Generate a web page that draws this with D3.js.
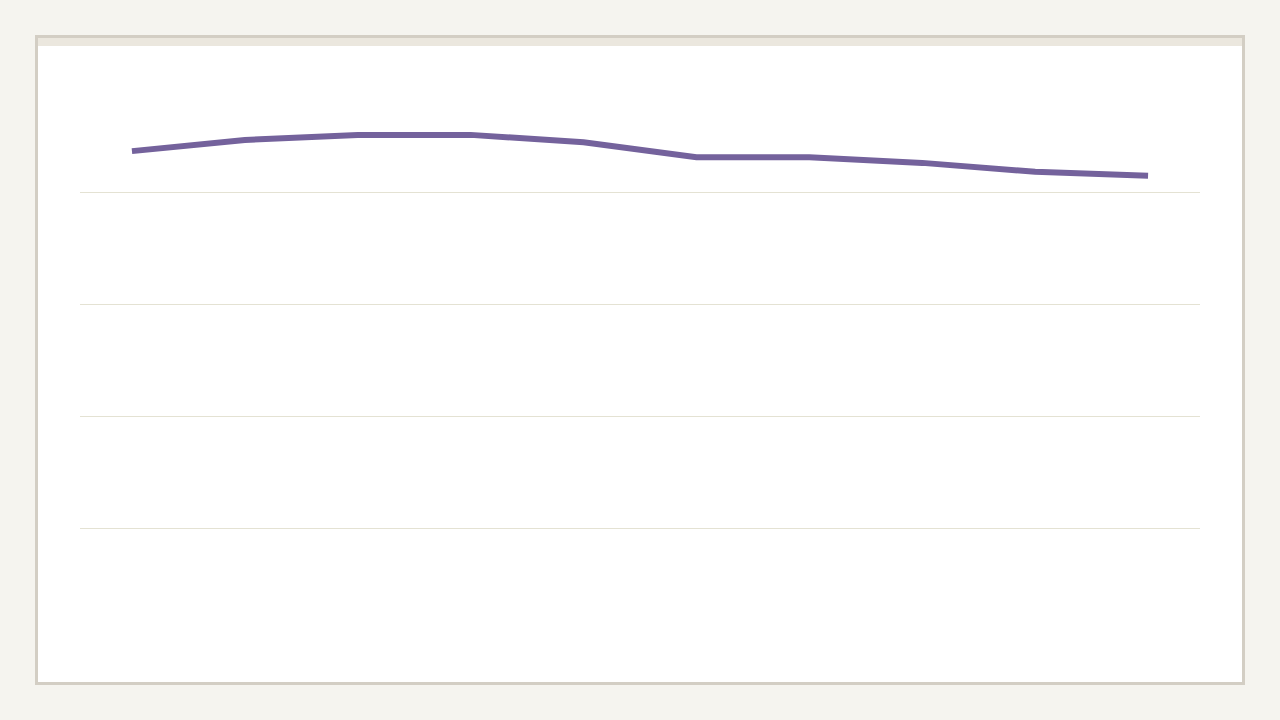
<!DOCTYPE html>
<meta charset="utf-8">
<style>
  body { margin: 0; background: #f5f4ef; }
  #card {
    position: absolute;
    left: 35px; top: 35px;
    width: 1204px; height: 644px;
    background: #fff;
    border: 3px solid #d3cec4;
  }
  #strip { height: 8px; background: #ebe7de; }
  svg { position: absolute; left: 0; top: 0; }
</style>
<div id="card"><div id="strip"></div></div>
<svg id="chart" width="1280" height="720"></svg>
<script src="https://cdn.jsdelivr.net/npm/d3@7"></script>
<script>
var periods = ["P1", "P2", "P3", "P4", "P5", "P6", "P7", "P8", "P9", "P10"];
var values = [87.3, 89.3, 90.2, 90.2, 88.9, 86.2, 86.2, 85.2, 83.6, 82.9];
var gridTicks = [20, 40, 60, 80];

var svg = d3.select("#chart"),
    plotLeft = 80, plotRight = 1200, plotTop = 80, plotBottom = 640;

var x = d3.scalePoint()
    .domain(periods)
    .range([plotLeft, plotRight])
    .padding(0.46);

var y = d3.scaleLinear()
    .domain([0, 100])
    .range([plotBottom, plotTop]);

// gridlines
svg.append("g")
  .selectAll("line")
  .data(gridTicks)
  .enter().append("line")
    .attr("x1", plotLeft)
    .attr("x2", plotRight)
    .attr("y1", function(d) { return y(d) + 0.5; })
    .attr("y2", function(d) { return y(d) + 0.5; })
    .attr("stroke", "#e4e2d3")
    .attr("stroke-width", 1)
    .attr("shape-rendering", "crispEdges");

var line = d3.line()
    .x(function(d, i) { return x(periods[i]); })
    .y(function(d) { return y(d); });

svg.append("path")
    .datum(values)
    .attr("d", line)
    .attr("fill", "none")
    .attr("stroke", "#74629c")
    .attr("stroke-width", 6);
</script>
